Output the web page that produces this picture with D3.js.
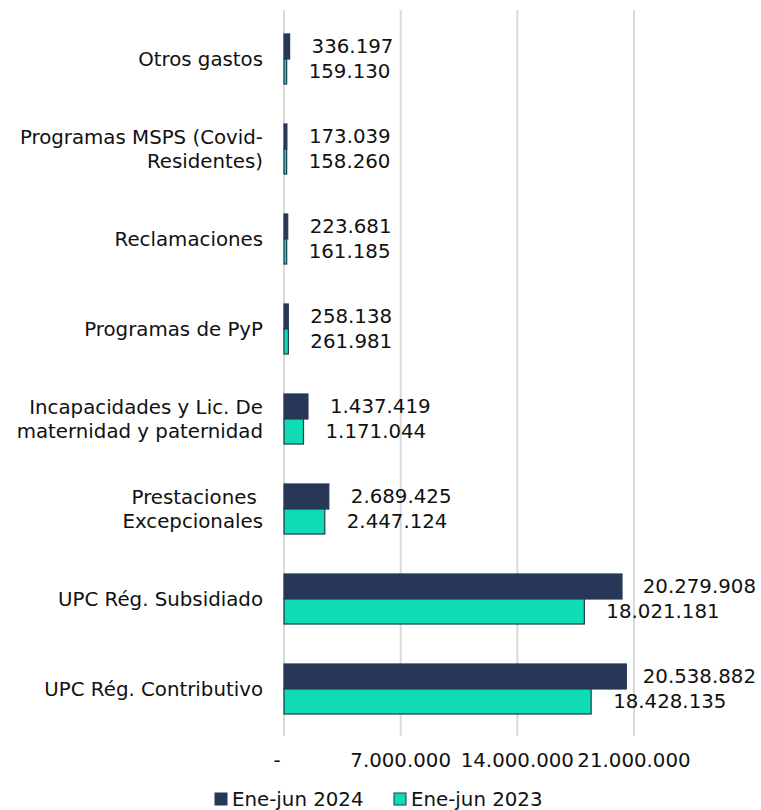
<!DOCTYPE html>
<html>
<head>
<meta charset="utf-8">
<script src="https://cdn.jsdelivr.net/npm/d3@7"></script>
<style>
  body { margin: 0; background: #fff; }
  text { font-family: "DejaVu Sans", Verdana, sans-serif; font-size: 19.8px; fill: #111; }
</style>
</head>
<body>
<script>
//Chart data, top to bottom.
var categories = [
  "Otros gastos",
  "Programas MSPS (Covid-|Residentes)",
  "Reclamaciones",
  "Programas de PyP",
  "Incapacidades y Lic. De|maternidad y paternidad",
  "Prestaciones |Excepcionales",
  "UPC Rég. Subsidiado",
  "UPC Rég. Contributivo"
];
var values2024 = [336197, 173039, 223681, 258138, 1437419, 2689425, 20279908, 20538882];
var values2023 = [159130, 158260, 161185, 261981, 1171044, 2447124, 18021181, 18428135];
var seriesNames = ["Ene-jun 2024", "Ene-jun 2023"];
var tickValues = [0, 7000000, 14000000, 21000000];

//Sizes.
var width = 761;
var height = 810;
var darkColor = "#283757";
var tealColor = "#0fdcb5";

var locale = d3.formatLocale({ decimal: ",", thousands: ".", grouping: [3], currency: ["", ""] });
var fmt = locale.format(",d");

var svg = d3.select("body").append("svg").attr("width", width).attr("height", height);

//Scales.
var x = d3.scaleLinear().domain([0, 21000000]).range([284, 634]);
var y = d3.scaleBand().domain(categories).range([14, 734]).paddingInner(0.444).paddingOuter(0.222);
var sub = d3.scaleBand().domain([0, 1]).range([0, y.bandwidth()]);

//Gridlines.
svg.append("g").selectAll("line").data(tickValues).enter().append("line")
   .attr("x1", function(d) { return x(d); })
   .attr("x2", function(d) { return x(d); })
   .attr("y1", 10)
   .attr("y2", 736)
   .attr("stroke", "#d9d9d9")
   .attr("stroke-width", 2);

//Tick labels.
svg.append("g").selectAll("text").data(tickValues).enter().append("text")
   .attr("x", function(d) { return d === 0 ? x(d) - 7 : x(d); })
   .attr("y", 767)
   .attr("text-anchor", "middle")
   .text(function(d) { return d === 0 ? "-" : fmt(d); });

//Rows.
var rows = categories.map(function(c, i) {
  return { name: c, vals: [values2024[i], values2023[i]] };
});

var groups = svg.append("g").selectAll("g").data(rows).enter().append("g")
   .attr("transform", function(d) { return "translate(0," + y(d.name) + ")"; });

//Category labels (| marks a line break).
groups.append("text")
   .attr("text-anchor", "end")
   .each(function(d) {
     var lines = d.name.split("|");
     var t = d3.select(this);
     var mid = y.bandwidth() / 2;
     lines.forEach(function(line, k) {
       t.append("tspan")
        .attr("x", 263)
        .attr("y", mid + 7 + (k - (lines.length - 1) / 2) * 23.5)
        .attr("xml:space", "preserve")
        .text(line);
     });
   });

//Bars.
groups.selectAll("rect").data(function(d) { return d.vals; }).enter().append("rect")
   .attr("x", x(0))
   .attr("y", function(d, k) { return sub(k); })
   .attr("width", function(d) { return x(d) - x(0); })
   .attr("height", sub.bandwidth())
   .attr("fill", function(d, k) { return k === 0 ? darkColor : tealColor; })
   .attr("stroke", function(d, k) { return k === 0 ? darkColor : "#1d3b4d"; })
   .attr("stroke-width", 1.2);

//Value labels, kept inside the right edge.
groups.selectAll("text.val").data(function(d) { return d.vals; }).enter().append("text")
   .attr("class", "val")
   .attr("y", function(d, k) { return sub(k) + sub.bandwidth() / 2 + 7; })
   .text(function(d) { return fmt(d); })
   .each(function(d) {
     var w = this.getComputedTextLength();
     var left = Math.min(x(d) + 22, 756 - w);
     d3.select(this).attr("x", left);
   });

//Legend.
var legend = svg.append("g").selectAll("g").data(seriesNames).enter().append("g")
   .attr("transform", function(d, k) { return "translate(" + (k === 0 ? 215 : 394) + ",793)"; });

legend.append("rect")
   .attr("width", 12)
   .attr("height", 12)
   .attr("fill", function(d, k) { return k === 0 ? darkColor : tealColor; })
   .attr("stroke", function(d, k) { return k === 0 ? darkColor : "#1d3b4d"; })
   .attr("stroke-width", 1);

legend.append("text")
   .attr("x", 17)
   .attr("y", 13)
   .text(function(d) { return d; });
</script>
</body>
</html>
